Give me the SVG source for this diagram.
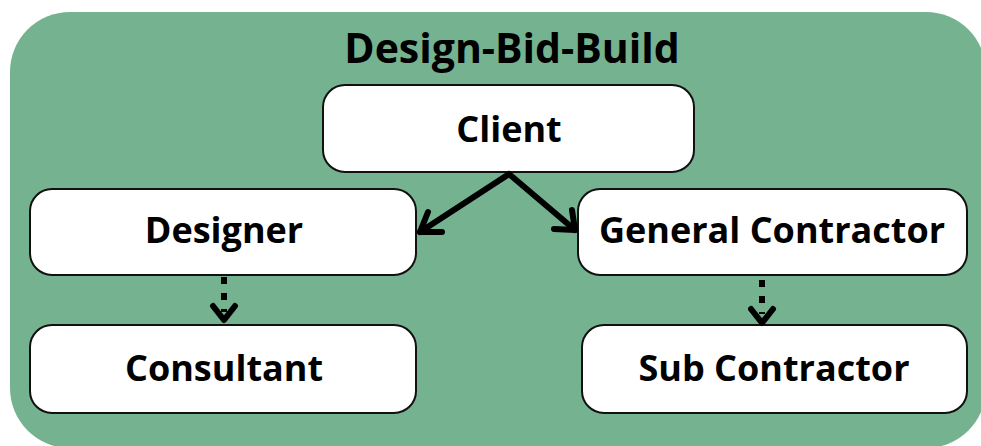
<svg xmlns="http://www.w3.org/2000/svg" width="981" height="446" viewBox="0 0 981 446">
  <style>
    .panel { fill: #74B290; }
    .box { fill: #FFFFFF; stroke: #111111; stroke-width: 2; }
    .label { font-family: "Open Sans", "DejaVu Sans", sans-serif; font-weight: bold; font-size: 36px; fill: #000000; text-anchor: middle; }
    .title { font-family: "Open Sans", "DejaVu Sans", sans-serif; font-weight: bold; font-size: 41px; fill: #000000; text-anchor: middle; }
    .solid { fill: none; stroke: #000000; stroke-width: 6; stroke-linecap: round; stroke-linejoin: round; }
    .dash { fill: none; stroke: #000000; stroke-width: 6; stroke-dasharray: 7 9; }
    .head { fill: none; stroke: #000000; stroke-width: 6; stroke-linecap: round; stroke-linejoin: round; }
  </style>

  <rect class="panel" x="10" y="12" width="976" height="436" rx="60" ry="60"/>
  <text class="title" x="512" y="63">Design-Bid-Build</text>

  <g id="client">
    <rect class="box" x="323" y="85" width="371" height="87" rx="22"/>
    <text class="label" x="509" y="142">Client</text>
  </g>
  <g id="designer">
    <rect class="box" x="30" y="189" width="386" height="86" rx="22"/>
    <text class="label" x="224" y="243">Designer</text>
  </g>
  <g id="general-contractor">
    <rect class="box" x="578" y="189" width="389" height="86" rx="22"/>
    <text class="label" x="772" y="243">General Contractor</text>
  </g>
  <g id="consultant">
    <rect class="box" x="30" y="325" width="386" height="88" rx="22"/>
    <text class="label" x="224" y="381">Consultant</text>
  </g>
  <g id="sub-contractor">
    <rect class="box" x="582" y="325" width="385" height="88" rx="22"/>
    <text class="label" x="774" y="381">Sub Contractor</text>
  </g>

  <g id="connectors">
    <!-- client to designer -->
    <path class="solid" d="M509 174 L420 232"/>
    <path class="head" d="M428 212 L420 232 L442 232"/>
    <!-- client to general contractor -->
    <path class="solid" d="M509 174 L575 230"/>
    <path class="head" d="M572 210 L575 230 L554 229"/>
    <!-- designer to consultant -->
    <path class="dash" d="M224 277 L224 312"/>
    <path class="head" d="M213 306 L224 320 L235 306"/>
    <!-- general contractor to sub contractor -->
    <path class="dash" d="M762 280 L762 314"/>
    <path class="head" d="M751 309 L762 323 L773 309"/>
  </g>
</svg>
